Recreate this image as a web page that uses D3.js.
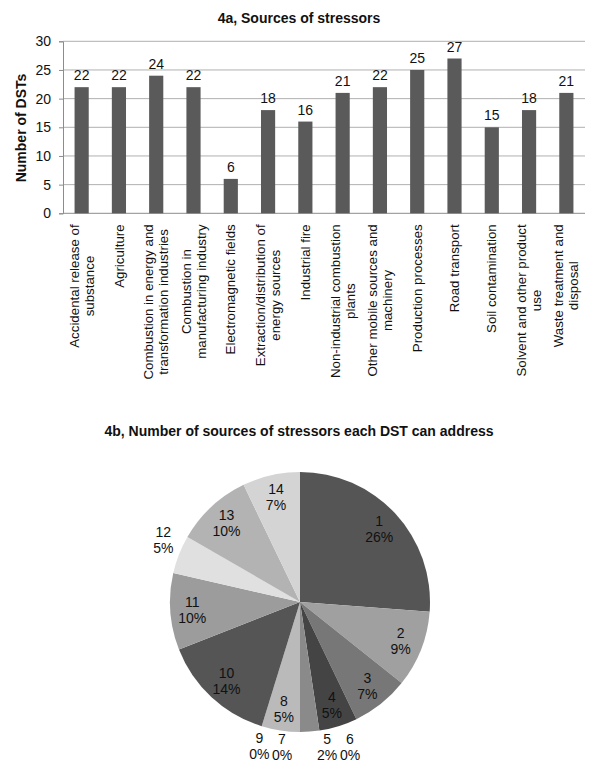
<!DOCTYPE html>
<html>
<head>
<meta charset="utf-8">
<script src="https://cdn.jsdelivr.net/npm/d3@7"></script>
<style>
  body { margin: 0; background: #fff; }
  svg { font-family: "Liberation Sans", Arial, sans-serif; }
</style>
</head>
<body>
<div id="chart"></div>
<script>
// 4a data
const categories = [
  'Accidental release of\nsubstance',
  'Agriculture',
  'Combustion in energy and\ntransformation industries',
  'Combustion in\nmanufacturing industry',
  'Electromagnetic fields',
  'Extraction/distribution of\nenergy sources',
  'Industrial fire',
  'Non-industrial combustion\nplants',
  'Other mobile sources and\nmachinery',
  'Production processes',
  'Road transport',
  'Soil contamination',
  'Solvent and other product\nuse',
  'Waste treatment and\ndisposal'
];
const dstCounts = [22, 22, 24, 22, 6, 18, 16, 21, 22, 25, 27, 15, 18, 21];
const yTicks = [0, 5, 10, 15, 20, 25, 30];

// 4b data
const pieCategories = ['1', '2', '3', '4', '5', '6', '7', '8', '9', '10', '11', '12', '13', '14'];
const pieCounts = [11, 4, 3, 2, 1, 0, 0, 2, 0, 6, 4, 2, 4, 3];
const pieLabels = ['26%', '9%', '7%', '5%', '2%', '0%', '0%', '5%', '0%', '14%', '10%', '5%', '10%', '7%'];
const pieColors = ['#555555', '#a0a0a0', '#777777', '#444444', '#8a8a8a', '#666666', '#999999',
                   '#bababa', '#cccccc', '#555555', '#9c9c9c', '#e0e0e0', '#b3b3b3', '#d4d4d4'];

// labels that Excel put outside the pie, with a small nudge
const outsideNudge = { '5': [16, -3], '6': [50, -3], '7': [-18, -3], '9': [3, 3], '12': [1, -8] };

const svg = d3.select('#chart')
  .append('svg')
  .attr('width', 600)
  .attr('height', 783);

// ---------- bar chart ----------
const margin = { top: 41.3, left: 63, right: 15 };
const plotH = 172;
const plotW = 600 - margin.left - margin.right;

const x = d3.scaleBand()
  .domain(categories)
  .range([0, plotW])
  .paddingInner(0.62)
  .paddingOuter(0.31);

const y = d3.scaleLinear()
  .domain([0, 30])
  .range([plotH, 0]);

svg.append('text')
  .attr('x', 299)
  .attr('y', 23)
  .attr('text-anchor', 'middle')
  .attr('font-weight', 'bold')
  .attr('font-size', 14)
  .attr('fill', '#111')
  .text('4a, Sources of stressors');

const g = svg.append('g')
  .attr('transform', `translate(${margin.left},${margin.top})`);

// gridlines
g.append('g')
  .selectAll('line')
  .data(yTicks.slice(1))
  .enter().append('line')
  .attr('x1', 0)
  .attr('x2', plotW)
  .attr('y1', d => y(d))
  .attr('y2', d => y(d))
  .attr('stroke', '#b0b0b0')
  .attr('stroke-width', 1);

const yAxis = g.append('g')
  .call(d3.axisLeft(y).tickValues(yTicks).tickSize(4).tickPadding(8));
yAxis.select('.domain').attr('stroke', '#8c8c8c');
yAxis.selectAll('.tick line').attr('stroke', '#8c8c8c');
yAxis.selectAll('.tick text')
  .attr('font-size', 14)
  .attr('font-family', '"Liberation Sans", Arial, sans-serif')
  .attr('fill', '#111');

// x baseline
g.append('line')
  .attr('x1', 0)
  .attr('x2', plotW)
  .attr('y1', y(0))
  .attr('y2', y(0))
  .attr('stroke', '#8c8c8c');

svg.append('text')
  .attr('transform', 'translate(26,128) rotate(-90)')
  .attr('text-anchor', 'middle')
  .attr('font-weight', 'bold')
  .attr('font-size', 14)
  .attr('fill', '#111')
  .text('Number of DSTs');

g.selectAll('.bar')
  .data(categories)
  .enter().append('rect')
  .attr('class', 'bar')
  .attr('x', d => x(d))
  .attr('y', (d, i) => y(dstCounts[i]))
  .attr('width', x.bandwidth())
  .attr('height', (d, i) => plotH - y(dstCounts[i]))
  .attr('fill', '#5a5a5a');

g.selectAll('.val')
  .data(categories)
  .enter().append('text')
  .attr('class', 'val')
  .attr('x', d => x(d) + x.bandwidth() / 2)
  .attr('y', (d, i) => y(dstCounts[i]) - 7)
  .attr('text-anchor', 'middle')
  .attr('font-size', 14)
  .attr('fill', '#111')
  .text((d, i) => dstCounts[i]);

// rotated category labels
categories.forEach(cat => {
  const lines = cat.split('\n');
  const lg = g.append('g')
    .attr('transform', `translate(${x(cat) + x.bandwidth() / 2},${plotH + 11}) rotate(-90)`);
  const texts = lines.map((ln, i) => lg.append('text')
    .attr('text-anchor', 'middle')
    .attr('font-size', 13.3)
    .attr('fill', '#111')
    .attr('y', (i - (lines.length - 1) / 2) * 15 + 4.6)
    .text(ln));
  const maxW = d3.max(texts, t => t.node().getComputedTextLength());
  texts.forEach(t => t.attr('x', -maxW / 2));
});

// ---------- pie chart ----------
svg.append('text')
  .attr('x', 299)
  .attr('y', 436)
  .attr('text-anchor', 'middle')
  .attr('font-weight', 'bold')
  .attr('font-size', 14)
  .attr('fill', '#111')
  .text('4b, Number of sources of stressors each DST can address');

const R = 130;
const pg = svg.append('g').attr('transform', 'translate(300,602)');

const pie = d3.pie().sort(null).value(d => d);
const arcs = pie(pieCounts);
const arc = d3.arc().innerRadius(0).outerRadius(R);
const inArc = d3.arc().innerRadius(108).outerRadius(108);
const outArc = d3.arc().innerRadius(148).outerRadius(148);

pg.selectAll('path')
  .data(arcs)
  .enter().append('path')
  .attr('d', arc)
  .attr('fill', (d, i) => pieColors[i]);

arcs.forEach((a, i) => {
  const name = pieCategories[i];
  let c;
  if (outsideNudge[name]) {
    const p = outArc.centroid(a);
    c = [p[0] + outsideNudge[name][0], p[1] + outsideNudge[name][1]];
  } else {
    c = inArc.centroid(a);
  }
  const t = pg.append('text')
    .attr('text-anchor', 'middle')
    .attr('font-size', 14)
    .attr('fill', '#111');
  [name, pieLabels[i]].forEach((s, k) => {
    t.append('tspan')
      .attr('x', c[0])
      .attr('y', c[1] + (k - 0.5) * 16 + 5)
      .text(s);
  });
});
</script>
</body>
</html>
